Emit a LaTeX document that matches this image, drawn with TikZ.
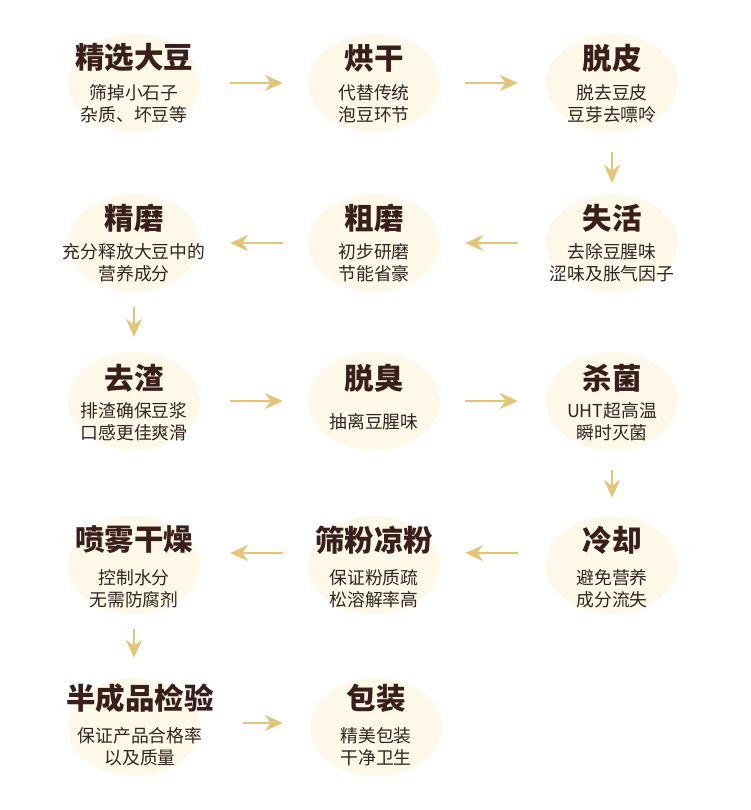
\documentclass[tikz,border=0pt]{standalone}
\usepackage{fontspec}
\setmainfont{Noto Sans CJK SC}
\usetikzlibrary{shapes.geometric,arrows.meta}
\definecolor{cream}{RGB}{253,248,231}
\definecolor{gold}{RGB}{228,196,120}
\definecolor{brownT}{RGB}{58,30,28}
\definecolor{brownS}{RGB}{50,36,32}
\tikzset{
  blob/.style={ellipse, fill=cream, minimum width=132pt, minimum height=98pt, inner sep=0pt},
  ttl/.style={font=\fontsize{29.5}{31}\selectfont\bfseries, text=brownT, inner sep=0pt},
  sub/.style={font=\fontsize{17.8}{22}\selectfont, text=brownS, align=center, inner sep=0pt},
  flow/.style={draw=gold, line width=2.6pt, -{Stealth[length=18pt,width=16pt,inset=6pt]}}
}
\begin{document}
\begin{tikzpicture}[x=1pt,y=-1pt]
\useasboundingbox (0,0) rectangle (750,810);
\fill[white] (0,0) rectangle (750,810);
% row 1
\node[blob] (c1) at (134,83) {};
\node[blob] (c2) at (374,83) {};
\node[blob] (c3) at (612,83) {};
% row 2
\node[blob] (c4) at (612,243) {};
\node[blob] (c5) at (374,243) {};
\node[blob] (c6) at (134,243) {};
% row 3
\node[blob] (c7) at (134,401) {};
\node[blob] (c8) at (374,401) {};
\node[blob] (c9) at (612,401) {};
% row 4
\node[blob] (c10) at (612,565) {};
\node[blob] (c11) at (374,565) {};
\node[blob] (c12) at (134,565) {};
% row 5
\node[blob] (c13) at (134,727) {};
\node[blob] (c14) at (376,727) {};

% titles and subtitles
\node[ttl] (t1) at (134,58) {精选大豆};
\node[sub] (s1) at (134,104) {筛掉小石子\\杂质、坏豆等};
\node[ttl] (t2) at (374,58) {烘干};
\node[sub] (s2) at (374,104) {代替传统\\泡豆环节};
\node[ttl] (t3) at (612,58) {脱皮};
\node[sub] (s3) at (612,104) {脱去豆皮\\豆芽去嘌呤};

\node[ttl] (t4) at (612,218) {失活};
\node[sub] (s4) at (612,263) {去除豆腥味\\涩味及胀气因子};
\node[ttl] (t5) at (374,218) {粗磨};
\node[sub] (s5) at (374,263) {初步研磨\\节能省豪};
\node[ttl] (t6) at (134,218) {精磨};
\node[sub] (s6) at (134,263) {充分释放大豆中的\\营养成分};

\node[ttl] (t7) at (134,378) {去渣};
\node[sub] (s7) at (134,422) {排渣确保豆浆\\口感更佳爽滑};
\node[ttl] (t8) at (374,378) {脱臭};
\node[sub] (s8) at (374,422) {抽离豆腥味};
\node[ttl] (t9) at (612,378) {杀菌};
\node[sub] (s9) at (612,422) {UHT超高温\\瞬时灭菌};

\node[ttl] (t10) at (612,540) {冷却};
\node[sub] (s10) at (612,589) {避免营养\\成分流失};
\node[ttl] (t11) at (374,540) {筛粉凉粉};
\node[sub] (s11) at (374,589) {保证粉质疏\\松溶解率高};
\node[ttl] (t12) at (134,540) {喷雾干燥};
\node[sub] (s12) at (134,589) {控制水分\\无需防腐剂};

\node[ttl] (t13) at (140,698) {半成品检验};
\node[sub] (s13) at (140,747) {保证产品合格率\\以及质量};
\node[ttl] (t14) at (376,698) {包装};
\node[sub] (s14) at (376,747) {精美包装\\干净卫生};

% connectors
\draw[flow, shorten <=30pt, shorten >=25pt] (c1.east) -- (c2.west);
\draw[flow, shorten <=25pt, shorten >=28pt] (c2.east) -- (c3.west);
\draw[flow, shorten <=20pt, shorten >=11pt] (c3.south) -- (c4.north);
\draw[flow, shorten <=28pt, shorten >=25pt] (c4.west) -- (c5.east);
\draw[flow, shorten <=25pt, shorten >=30pt] (c5.west) -- (c6.east);
\draw[flow, shorten <=15pt, shorten >=15pt] (c6.south) -- (c7.north);
\draw[flow, shorten <=30pt, shorten >=25pt] (c7.east) -- (c8.west);
\draw[flow, shorten <=25pt, shorten >=28pt] (c8.east) -- (c9.west);
\draw[flow, shorten <=20pt, shorten >=18pt] (c9.south) -- (c10.north);
\draw[flow, shorten <=28pt, shorten >=25pt] ([yshift=12pt]c10.west) -- ([yshift=12pt]c11.east);
\draw[flow, shorten <=25pt, shorten >=30pt] ([yshift=12pt]c11.west) -- ([yshift=12pt]c12.east);
\draw[flow, shorten <=15pt, shorten >=20pt] (c12.south) -- (c13.north);
\draw[flow, shorten <=43pt, shorten >=27pt] ([yshift=4pt]c13.east) -- ([yshift=4pt]c14.west);
\end{tikzpicture}
\end{document}
